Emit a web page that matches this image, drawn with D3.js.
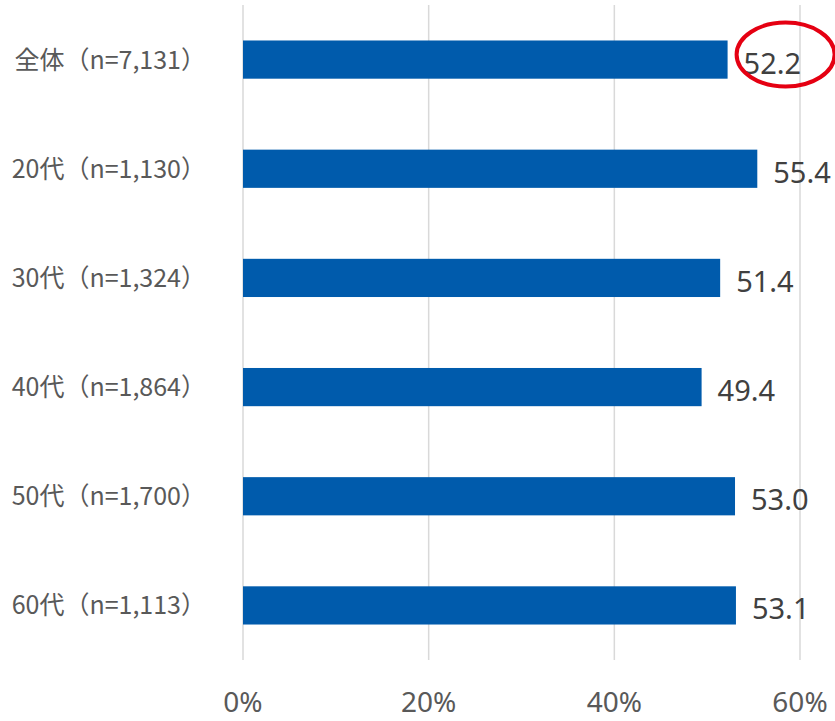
<!DOCTYPE html>
<html>
<head>
<meta charset="utf-8">
<script src="https://cdn.jsdelivr.net/npm/d3@7"></script>
<style>
  body { margin: 0; background: #fff; }
  text { font-family: "Noto Sans", "Noto Sans CJK JP", sans-serif; }
</style>
</head>
<body>
<div id="chart"></div>
<script>
let categories = ["全体（n=7,131）", "20代（n=1,130）", "30代（n=1,324）", "40代（n=1,864）", "50代（n=1,700）", "60代（n=1,113）"];
let values = [52.2, 55.4, 51.4, 49.4, 53.0, 53.1];
let ticks = [0, 20, 40, 60];
let highlighted = ["全体（n=7,131）"];

let width = 835;
let height = 721;

let svg = d3.select("#chart").append("svg")
  .attr("width", width)
  .attr("height", height);

let x = d3.scaleLinear()
  .domain([0, 60])
  .range([243, 800]);

let y = d3.scaleBand()
  .domain(categories)
  .range([5, 660])
  .paddingInner(0.65)
  .paddingOuter(0.325);

// gridlines
svg.selectAll("line.grid")
  .data(ticks)
  .enter()
  .append("line")
  .attr("class", "grid")
  .attr("x1", d => x(d))
  .attr("x2", d => x(d))
  .attr("y1", 5)
  .attr("y2", 660)
  .attr("stroke", "#d9d9d9")
  .attr("stroke-width", 1.5);

// tick labels
svg.selectAll("text.tick")
  .data(ticks)
  .enter()
  .append("text")
  .attr("class", "tick")
  .attr("x", d => x(d))
  .attr("y", 712)
  .attr("text-anchor", "middle")
  .style("font-size", "28px")
  .style("fill", "#595959")
  .text(d => d + "%");

// bars
svg.selectAll("rect.bar")
  .data(values)
  .enter()
  .append("rect")
  .attr("class", "bar")
  .attr("x", x(0))
  .attr("y", (d, i) => y(categories[i]))
  .attr("width", d => x(d) - x(0))
  .attr("height", y.bandwidth())
  .style("fill", "#005bac");

// category labels
svg.selectAll("text.cat")
  .data(categories)
  .enter()
  .append("text")
  .attr("class", "cat")
  .attr("x", 206)
  .attr("y", d => y(d) + y.bandwidth() / 2 + 9)
  .attr("text-anchor", "end")
  .style("font-family", "'Noto Sans CJK JP', sans-serif")
  .style("font-size", "25px")
  .style("fill", "#595959")
  .text(d => d);

// value labels
svg.selectAll("text.val")
  .data(values)
  .enter()
  .append("text")
  .attr("class", "val")
  .attr("x", d => x(d) + 16)
  .attr("y", (d, i) => y(categories[i]) + y.bandwidth() / 2 + 14)
  .style("font-size", "29px")
  .style("fill", "#404040")
  .text(d => d.toFixed(1));

// red circle on highlighted label
svg.selectAll("ellipse.mark")
  .data(highlighted)
  .enter()
  .append("ellipse")
  .attr("class", "mark")
  .attr("cx", d => x(values[categories.indexOf(d)]) + 58)
  .attr("cy", d => y(d) + y.bandwidth() / 2 - 5)
  .attr("rx", 49)
  .attr("ry", 32)
  .style("fill", "none")
  .style("stroke", "#e50012")
  .style("stroke-width", 4);
</script>
</body>
</html>
